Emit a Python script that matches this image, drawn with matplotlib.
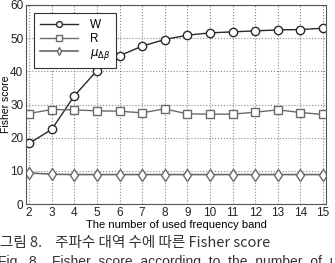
import numpy as np
import matplotlib.pyplot as plt

bands = [2, 3, 4, 5, 6, 7, 8, 9, 10, 11, 12, 13, 14, 15]
w_score = [18.3, 22.5, 32.6, 40.2, 44.7, 47.6, 49.6, 50.9, 51.6, 51.9, 52.2, 52.5, 52.6, 53.0]
r_score = [27.3, 28.5, 28.4, 28.1, 28.0, 27.5, 28.7, 27.2, 27.1, 27.1, 27.7, 28.4, 27.6, 27.0]
mu_score = [9.4, 9.0, 8.9, 8.9, 8.9, 8.9, 8.9, 8.9, 8.9, 8.9, 8.9, 8.9, 8.9, 8.9]

plt.rcParams['font.family'] = ['Liberation Sans', 'DejaVu Sans']

fig = plt.figure(figsize=(3.35, 2.63), dpi=100)
ax = fig.add_axes([0.078, 0.224, 0.895, 0.757])

ax.plot(bands, w_score, color='#2a2a2a', lw=1.0, marker='o', ms=6,
        mfc='white', mec='#2a2a2a', mew=1.0, label='W')
ax.plot(bands, r_score, color='#6a6a6a', lw=1.0, marker='s', ms=5.5,
        mfc='white', mec='#6a6a6a', mew=1.0, label='R')
ax.plot(bands, mu_score, color='#6a6a6a', lw=1.2, marker='d', ms=6,
        mfc='white', mec='#6a6a6a', mew=1.0, label=r'$\mu_{\Delta\beta}$')

ax.set_xlim(1.87, 15.13)
ax.set_ylim(0, 60)
ax.set_xticks(bands)
ax.set_yticks(range(0, 61, 10))
ax.tick_params(labelsize=8.5, length=0, pad=2, colors='#222222')
ax.grid(True, color='#888888', linestyle=':', linewidth=0.8)
for s in ax.spines.values():
    s.set_color('#555555')
    s.set_linewidth(0.8)

ax.set_xlabel('The number of used frequency band', fontsize=8, labelpad=1)
ax.yaxis.set_label_coords(-0.052, 0.5)
ax.set_ylabel('Fisher score', fontsize=7.5)

leg = ax.legend(loc='upper left', bbox_to_anchor=(0.013, 0.98), fontsize=8.5,
                handlelength=3.2, handletextpad=1.0, borderpad=0.55,
                borderaxespad=0.3, labelspacing=0.15, markerscale=0.7,
                fancybox=False, framealpha=1, edgecolor='#333333')
leg.get_frame().set_linewidth(0.8)

fig.text(0.0, 0.075, '그림 8.    주파수 대역 수에 따른 Fisher score', fontsize=10.5,
         family=['Noto Sans CJK KR', 'DejaVu Sans'], color='#333333', va='center')
fig.text(-0.005, 0.005, 'Fig.  8.   Fisher  score  according  to  the  number  of  used',
         fontsize=10, color='#333333', va='center')

fig.savefig('out.png', dpi=100)
